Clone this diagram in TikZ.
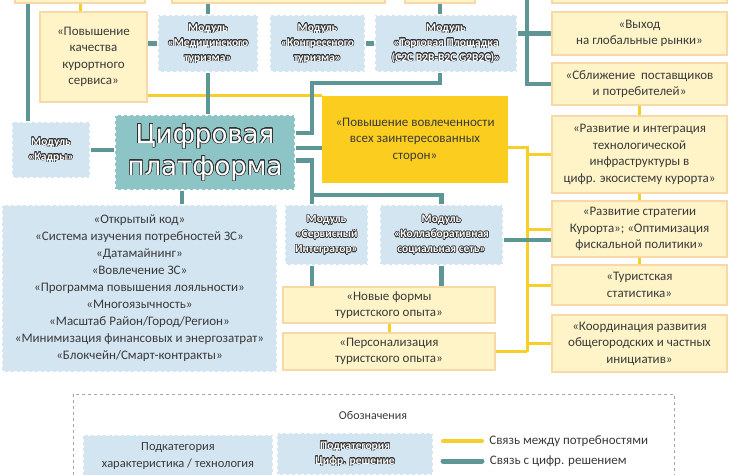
\documentclass[tikz,border=0pt]{standalone}
\usepackage{fontspec}
\setmainfont{Carlito}
\newfontfamily\platfont{DejaVu Sans}
\usepackage{contour}
\contourlength{0.55pt}
\definecolor{tealline}{RGB}{94,150,150}
\definecolor{yline}{RGB}{246,208,42}
\definecolor{needfill}{RGB}{255,244,200}
\definecolor{needborder}{RGB}{249,216,168}
\definecolor{goldfill}{RGB}{251,205,30}
\definecolor{lblue}{RGB}{211,229,241}
\definecolor{platfill}{RGB}{141,196,197}
\definecolor{textdark}{RGB}{58,58,58}
\definecolor{outlc}{RGB}{50,50,50}
\newcommand\outl[1]{\contour{outlc}{#1}}
\tikzstyle{tedge}=[
	draw=tealline,
	line width=4.5pt
]
\tikzstyle{yedge}=[
	draw=yline,
	line width=3pt
]
\tikzstyle{need}=[
	draw=needborder,
	fill=needfill,
	line width=2.5pt,
	inner sep=0pt,
	align=center,
	text=textdark,
	font=\fontsize{13}{16.5}\selectfont
]
\tikzstyle{feat}=[
	draw=white,
	fill=lblue,
	line width=2pt,
	dash pattern=on 3pt off 3pt,
	inner sep=0pt,
	align=center,
	text=textdark,
	font=\fontsize{13}{17}\selectfont
]
\tikzstyle{modl}=[
	feat,
	text=white,
	font=\fontsize{11.5}{15}\selectfont\bfseries
]

\begin{document}
\begin{tikzpicture}[x=1pt, y=-1pt]
\useasboundingbox (0,0) rectangle (730,474);
\clip (0,0) rectangle (730,474);
\fill[white] (0,0) rectangle (730,474);

\node[need, minimum width=130pt, minimum height=33pt] (topL) at (80,-13.5) {};
\node[need, minimum width=213pt, minimum height=33pt] (topM) at (278.5,-13.5) {};
\node[need, minimum width=70pt, minimum height=33pt] (topS) at (440,-13.5) {};
\node[need, minimum width=175pt, minimum height=33pt] (topR) at (639.5,-13.5) {};

\node[need, minimum width=107pt, minimum height=90pt] (kach) at (93.5,57) {«Повышение\\качества\\курортного\\сервиса»};
\node[modl, minimum width=100pt, minimum height=57pt] (med) at (208,43.5) {\outl{Модуль}\\\outl{«Медицинского}\\\outl{туризма»}};
\node[modl, minimum width=95pt, minimum height=57pt] (kongr) at (317.5,43.5) {\outl{Модуль}\\\outl{«Конгрессного}\\\outl{туризма»}};
\node[modl, minimum width=142pt, minimum height=57pt] (torg) at (446,43.5) {\outl{Модуль}\\\outl{«Торговая Площадка}\\\outl{(C2C B2B-B2C G2B2C)»}};
\node[modl, minimum width=78pt, minimum height=56pt] (kadry) at (51,150) {\outl{Модуль}\\\outl{«Кадры»}};
\node[feat, fill=platfill, minimum width=180pt, minimum height=75pt, text=white,
      font=\platfont\fontsize{26}{32}\selectfont] (plat) at (205,152.5)
      {\contour[32]{outlc}{Цифровая}\\\contour[32]{outlc}{платформа}};
\node[need, draw=goldfill, fill=goldfill, minimum width=184pt, minimum height=85pt] (vovl) at (415,139.5)
      {«Повышение вовлеченности\\всех заинтересованных\\сторон»};
\node[feat, minimum width=275pt, minimum height=167pt] (list) at (139.5,288.5)
      {«Открытый код»\\«Система изучения потребностей ЗС»\\«Датамайнинг»\\«Вовлечение ЗС»\\«Программа повышения лояльности»\\«Многоязычность»\\«Масштаб Район/Город/Регион»\\«Минимизация финансовых и энергозатрат»\\«Блокчейн/Смарт-контракты»};
\node[modl, minimum width=83pt, minimum height=60pt] (serv) at (326.5,235) {\outl{Модуль}\\\outl{«Сервисный}\\\outl{Интегратор»}};
\node[modl, minimum width=123pt, minimum height=60pt] (koll) at (441.5,235) {\outl{Модуль}\\\outl{«Коллаборативная}\\\outl{социальная сеть»}};
\node[need, minimum width=212pt, minimum height=36pt] (novye) at (389,305) {«Новые формы\\туристского опыта»};
\node[need, minimum width=212pt, minimum height=37pt] (pers) at (389,351.5) {«Персонализация\\туристского опыта»};

\node[need, minimum width=175pt, minimum height=43pt] (vyhod) at (639.5,33.5) {«Выход\\на глобальные рынки»};
\node[need, minimum width=175pt, minimum height=42pt] (sbl) at (639.5,84) {«Сближение~~поставщиков\\и потребителей»};
\node[need, minimum width=175pt, minimum height=77pt] (razv) at (639.5,154.5) {«Развитие и интеграция\\технологической\\инфраструктуры в\\цифр. экосистему курорта»};
\node[need, minimum width=175pt, minimum height=56pt] (strat) at (639.5,229) {«Развитие стратегии\\Курорта»; «Оптимизация\\фискальной политики»};
\node[need, minimum width=175pt, minimum height=40pt] (turist) at (639.5,285) {«Туристская\\статистика»};
\node[need, minimum width=175pt, minimum height=57pt] (koord) at (639.5,343.5) {«Координация развития\\общегородских и частных\\инициатив»};

\coordinate (b1) at (312,83);
\coordinate (b2) at (312,195);
\coordinate (b3) at (527,-5);
\coordinate (b4) at (527,147);

\draw[yedge] (topL.south) -- (topL.south |- kach.north);
\draw[yedge] (kach.east |- vovl.north) -- (vovl.north west);
\draw[yedge] (vovl.east |- b4) -- (b4) -- (b4 |- pers.east);
\foreach \n in {razv, strat, turist, koord}{
    \draw[yedge] (b4 |- \n.west) -- (\n.west);
}
\draw[yedge] (pers.east) -- (pers.east -| b4);
\foreach \a/\b in {sbl/razv, razv/strat, strat/turist}{
    \draw[yedge] (\a.south) -- (\b.north);
}
\draw[yedge] (novye.south) -- (pers.north);

\draw[tedge] ([xshift=-52pt]topL.south) -- ([xshift=-52pt]topL.south |- kadry.north);
\draw[tedge] (kadry.east) -- (kadry.east -| plat.west);
\draw[tedge] (topM.south -| med.north) -- (med.north);
\draw[tedge] (med.south) -- (med.south |- plat.north);
\draw[tedge] (kach.east |- med.west) -- (med.west);
\draw[tedge] (kongr.east) -- (torg.west);
\draw[tedge] (topS.south) -- (topS.south |- torg.north);
\draw[tedge] (topS.south |- torg.south) |- (b1) |- ([yshift=19.5pt]plat.east);
\draw[tedge] ([yshift=4.5pt]plat.east) -- ([yshift=4.5pt]plat.east -| vovl.west);
\draw[tedge] ([yshift=-8pt]plat.east) -| (b2) -| (koll.north);
\draw[tedge] (b2) -- (b2 |- serv.north);
\draw[tedge] ([xshift=-23pt]plat.south) -- ([xshift=-23pt]plat.south |- list.north);
\draw[tedge] (serv.south -| b2) -- (novye.north -| b2);
\draw[tedge] (koll.south) -- (koll.south |- novye.north);
\draw[tedge] ([yshift=-5pt]koll.east) -- ([yshift=-5pt]koll.east -| strat.west);
\draw[tedge] (b3) |- (sbl.west);
\draw[tedge] (vyhod.west -| torg.east) -- (vyhod.west);

\draw[gray!70, dashed, line width=0.8pt] (73,394) rectangle (674,510);
\node[text=textdark, font=\fontsize{12}{14}\selectfont] (legt) at (373,415) {Обозначения};
\node[feat, minimum width=190pt, minimum height=42pt, font=\fontsize{12.5}{17}\selectfont] (lega) at (178,456) {Подкатегория\\характеристика / технология};
\node[modl, minimum width=156pt, minimum height=42pt] (legb) at (355,454) {\outl{Подкатегория}\\\outl{Цифр. решение}};
\coordinate (ly1) at (443,441);
\coordinate (ly2) at (482,441);
\coordinate (lt1) at (443,461);
\coordinate (lt2) at (482,461);
\draw[yedge, line width=4pt, line cap=round] (ly1) -- (ly2) node[right=2pt, text=textdark, font=\fontsize{13}{15}\selectfont] (legy) {Связь между потребностями};
\draw[tedge, line width=5pt, line cap=round] (lt1) -- (lt2) node[right=2pt, text=textdark, font=\fontsize{13}{15}\selectfont] (legtl) {Связь с цифр. решением};
\end{tikzpicture}
\end{document}
